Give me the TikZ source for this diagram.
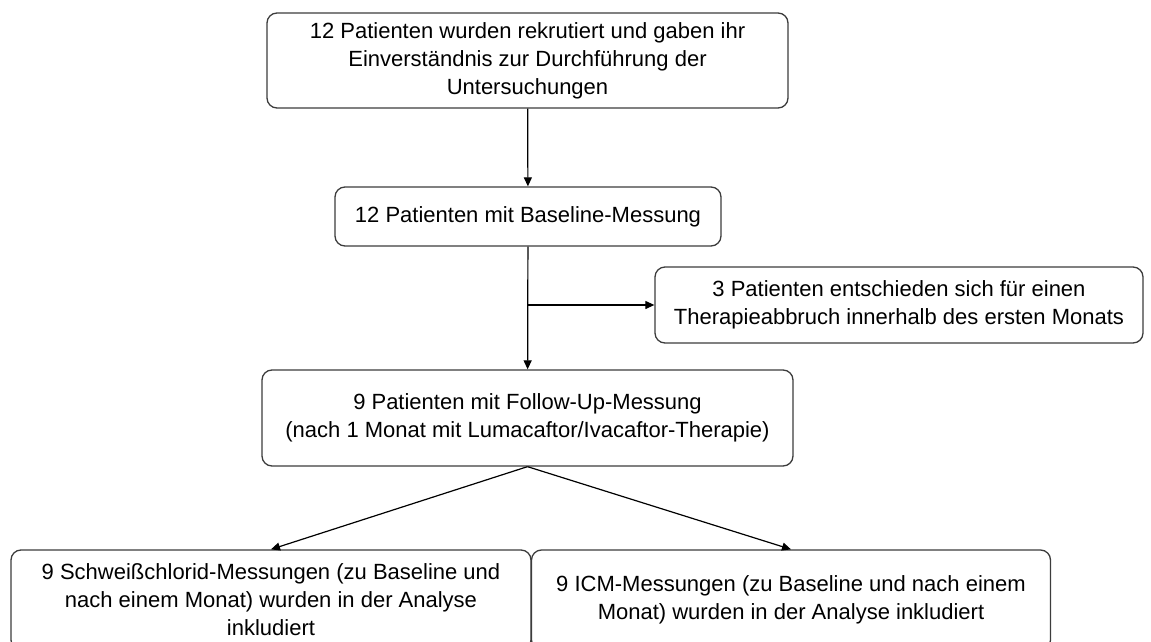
\documentclass[tikz,border=0pt]{standalone}
\usepackage{fontspec}
\setmainfont{Liberation Sans}
\usepackage{tikz}
\usetikzlibrary{arrows.meta, calc}
\definecolor{myline}{RGB}{60,60,60}
\tikzset{
  box/.style={rectangle, draw=myline, fill=white, align=center,
    rounded corners=5pt, line width=0.65pt, inner sep=0pt,
    font=\fontsize{11}{14}\selectfont},
  arrow/.style={-{Triangle[length=4.5pt, width=4pt]}, line width=0.6pt, color=black}
}
\begin{document}
\begin{tikzpicture}[x=0.5pt, y=-0.5pt]
  \useasboundingbox (0,0) rectangle (1151,642);
  % Rekrutierung
  \node[box, minimum width=260.5pt, minimum height=47.5pt] (recruit) at (527.5,60.5)
    {12 Patienten wurden rekrutiert und gaben ihr\\Einverständnis zur Durchführung der\\Untersuchungen};
  % Baseline
  \node[box, minimum width=193pt, minimum height=29.5pt] (baseline) at (528,216.5)
    {12 Patienten mit Baseline-Messung};
  % Abbruch
  \node[box, minimum width=244pt, minimum height=38pt] (dropout) at (899,305)
    {3 Patienten entschieden sich für einen\\Therapieabbruch innerhalb des ersten Monats};
  % Follow-Up
  \node[box, minimum width=265.5pt, minimum height=48pt] (followup) at (527.5,418)
    {9 Patienten mit Follow-Up-Messung\\(nach 1 Monat mit Lumacaftor/Ivacaftor-Therapie)};
  % Analyse
  \node[box, minimum width=260pt, minimum height=50pt] (sweat) at (271,600)
    {9 Schweißchlorid-Messungen (zu Baseline und\\nach einem Monat) wurden in der Analyse\\inkludiert};
  \node[box, minimum width=259.5pt, minimum height=50pt] (icm) at (791,600)
    {9 ICM-Messungen (zu Baseline und nach einem\\Monat) wurden in der Analyse inkludiert};

  \draw[arrow] (recruit) -- (baseline);
  \draw[arrow] (baseline) -- (followup);
  \coordinate (split) at (baseline.south |- dropout.west);
  \draw[arrow] (split) -- (dropout.west);
  \draw[arrow] (followup.south) -- (sweat.north);
  \draw[arrow] (followup.south) -- (icm.north);
\end{tikzpicture}
\end{document}
